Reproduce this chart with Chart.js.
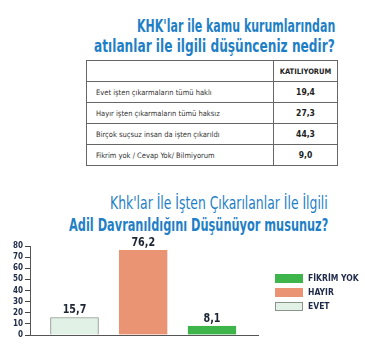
<!DOCTYPE html>
<html>
<head>
<meta charset="utf-8">
<script src="https://cdn.jsdelivr.net/npm/chart.js@4"></script>
<style>
  body { margin: 0; background: #fff; width: 365px; height: 348px; position: relative; overflow: hidden;
         font-family: "DejaVu Sans Condensed", sans-serif; }
  .ln { position: absolute; right: 0; white-space: nowrap; transform-origin: right center; color: #1f7fc6; }
  .t1 { font-weight: bold; font-size: 17px; }
  .t2 { font-size: 17px; }
  .t3 { font-weight: bold; font-size: 18px; }
  table { position: absolute; left: 86px; top: 60px; width: 252px; border-collapse: collapse; }
  td { border: 1px solid #666; height: 20px; padding: 0; font-size: 7.5px; color: #333; }
  td.lbl { padding-left: 9px; width: 177px; }
  td.val { text-align: center; font-weight: bold; font-size: 8.5px; color: #222; }
  td.head { text-align: center; font-weight: bold; font-size: 7.5px; color: #222; }
  #wrap { position: absolute; left: 0; top: 235px; width: 365px; height: 113px; }
  .legend { position: absolute; left: 275px; top: 274px; }
  .legend div { height: 14px; display: flex; align-items: flex-start; font-weight: bold;
                font-size: 8.5px; color: #1f2a48; line-height: 9px; }
  .legend span { display: inline-block; width: 28px; height: 9px; margin-right: 5px; box-sizing: border-box; }
</style>
</head>
<body>
<div class="ln t1" style="top:16px; right:30px; transform:scaleX(0.72)">KHK'lar ile kamu kurumlarından</div>
<div class="ln t1" style="top:36px; right:30px; transform:scaleX(0.795)">atılanlar ile ilgili düşünceniz nedir?</div>

<table id="tbl">
  <tr><td class="lbl"></td><td class="head">KATILIYORUM</td></tr>
</table>

<div class="ln t2" style="top:193px; right:37px; transform:scaleX(0.81)">Khk'lar İle İşten Çıkarılanlar İle İlgili</div>
<div class="ln t3" style="top:214px; right:37px; transform:scaleX(0.70)">Adil Davranıldığını Düşünüyor musunuz?</div>

<div id="wrap"><canvas id="chart" width="365" height="113"></canvas></div>
<div class="legend" id="legend"></div>

<script>
// table data
const tableRows = [
  "Evet işten çıkarmaların tümü haklı",
  "Hayır işten çıkarmaların tümü haksız",
  "Birçok suçsuz insan da işten çıkarıldı",
  "Fikrim yok / Cevap Yok/ Bilmiyorum"
];
const tableValues = ["19,4", "27,3", "44,3", "9,0"];

// chart data
const categories = ["EVET", "HAYIR", "FİKRİM YOK"];
const values = [15.7, 76.2, 8.1];
const yTicks = [0, 10, 20, 30, 40, 50, 60, 70, 80];
const barColors = ["#e2f1e5", "#ea9474", "#3db54a"];
const barBorders = ["#8a948c", "#ea9474", "#3db54a"];

const NARROW = '"DejaVu Sans Condensed", sans-serif';

const tbl = document.getElementById("tbl");
tableRows.forEach((r, i) => {
  const tr = document.createElement("tr");
  tr.innerHTML = `<td class="lbl">${r}</td><td class="val">${tableValues[i]}</td>`;
  tbl.appendChild(tr);
});

// legend, reversed order like the original
const legend = document.getElementById("legend");
for (let i = categories.length - 1; i >= 0; i--) {
  const d = document.createElement("div");
  d.innerHTML = `<span style="background:${barColors[i]};border:1px solid ${barBorders[i]}"></span>${categories[i]}`;
  legend.appendChild(d);
}

// value labels above bars, comma decimals
const valueLabels = {
  id: "valueLabels",
  afterDatasetsDraw(chart) {
    const ctx = chart.ctx;
    const meta = chart.getDatasetMeta(0);
    ctx.save();
    ctx.font = "bold 13px " + NARROW;
    ctx.fillStyle = "#1c2433";
    ctx.textAlign = "center";
    ctx.textBaseline = "bottom";
    meta.data.forEach((bar, i) => {
      ctx.save();
      ctx.translate(bar.x, bar.y - 1);
      ctx.scale(0.82, 1);
      ctx.fillText(values[i].toFixed(1).replace(".", ","), 0, 0);
      ctx.restore();
    });
    ctx.restore();
  }
};

new Chart(document.getElementById("chart"), {
  type: "bar",
  data: {
    datasets: [{
      data: values.map((v, i) => ({ x: i, y: v })),
      backgroundColor: barColors,
      borderColor: barBorders,
      borderWidth: 1,
      barThickness: 48
    }]
  },
  options: {
    responsive: false,
    animation: false,
    layout: { padding: { left: 0, right: 107, top: 11, bottom: 13 } },
    plugins: { legend: { display: false }, tooltip: { enabled: false } },
    scales: {
      x: {
        type: "linear",
        offset: false,
        min: -0.647,
        max: 2.669,
        grid: { display: false, offset: false },
        ticks: { display: false },
        border: { display: true, color: "#555", width: 1 },
        afterFit(scale) { scale.height = 0; }
      },
      y: {
        min: 0,
        max: 80,
        afterBuildTicks(scale) { scale.ticks = yTicks.map((v) => ({ value: v })); },
        grid: { drawOnChartArea: false, drawTicks: true, tickLength: 5, color: "#444" },
        border: { display: true, color: "#555", width: 1 },
        ticks: { autoSkip: false, padding: 2, color: "#1f2a48", font: { family: NARROW, size: 8, weight: "bold" } },
        afterFit(scale) { scale.width = 30; }
      }
    }
  },
  plugins: [valueLabels]
});
</script>
</body>
</html>
